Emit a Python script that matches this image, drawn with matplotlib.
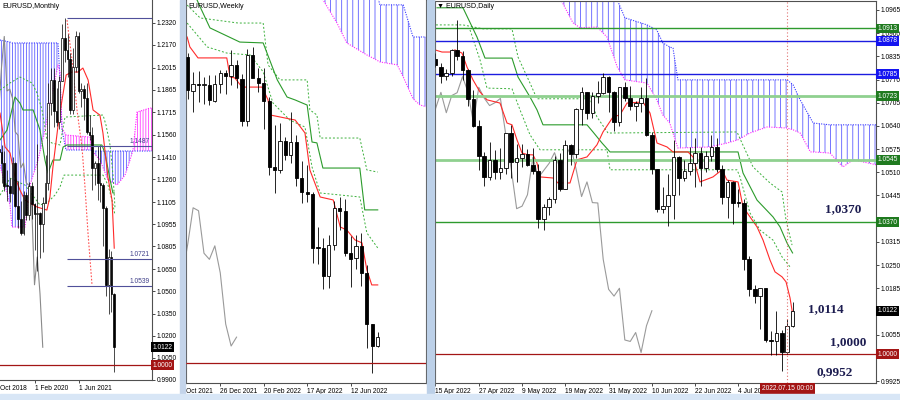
import matplotlib.pyplot as plt
from matplotlib.patches import Rectangle
import numpy as np

plt.rcParams['font.family'] = ['Liberation Sans', 'DejaVu Sans']
plt.rcParams['hatch.linewidth'] = 0.6

# ---------------- monthly bars (index 0 = Jan 2019)
mo_open = [1.1466, 1.1445, 1.1372, 1.1217, 1.1214, 1.1168, 1.1370, 1.1077, 1.0988, 1.0898, 1.1152, 1.1017,
           1.1213, 1.1093, 1.1026, 1.1030, 1.0955, 1.1100, 1.1234, 1.1778, 1.1935, 1.1720, 1.1646, 1.1926,
           1.2216, 1.2136, 1.2074, 1.1728, 1.2017, 1.2227, 1.1858, 1.1870, 1.1808, 1.1580, 1.1558, 1.1338,
           1.1370, 1.1235, 1.1218, 1.1067, 1.0545, 1.0733, 1.0484]
mo_high = [1.1570, 1.1489, 1.1448, 1.1324, 1.1265, 1.1412, 1.1380, 1.1250, 1.1110, 1.1180, 1.1175, 1.1240,
           1.1239, 1.1100, 1.1496, 1.1040, 1.1137, 1.1422, 1.1909, 1.2011, 1.2011, 1.1880, 1.1960, 1.2310,
           1.2349, 1.2243, 1.2113, 1.2150, 1.2266, 1.2254, 1.1909, 1.1900, 1.1909, 1.1692, 1.1616, 1.1386,
           1.1483, 1.1495, 1.1233, 1.1076, 1.0787, 1.0774, 1.0486]
mo_low = [1.1289, 1.1234, 1.1177, 1.1111, 1.1107, 1.1160, 1.1070, 1.0927, 1.0879, 1.0880, 1.0981, 1.0981,
          1.0992, 1.0778, 1.0636, 1.0727, 1.0766, 1.1100, 1.1185, 1.1696, 1.1612, 1.1622, 1.1603, 1.1923,
          1.2053, 1.1952, 1.1704, 1.1704, 1.1986, 1.1847, 1.1752, 1.1664, 1.1563, 1.1524, 1.1186, 1.1222,
          1.1121, 1.1106, 1.0806, 1.0471, 1.0349, 1.0359, 0.9952]
mo_close = [1.1445, 1.1372, 1.1217, 1.1214, 1.1168, 1.1370, 1.1077, 1.0988, 1.0898, 1.1152, 1.1017, 1.1213,
            1.1093, 1.1026, 1.1030, 1.0955, 1.1100, 1.1234, 1.1778, 1.1935, 1.1720, 1.1646, 1.1926, 1.2216,
            1.2136, 1.2074, 1.1728, 1.2017, 1.2227, 1.1858, 1.1870, 1.1808, 1.1580, 1.1558, 1.1338, 1.1370,
            1.1235, 1.1218, 1.1067, 1.0545, 1.0733, 1.0484, 1.0122]

mo_tenkan_x = [0.45, 2.3, 4.1, 5.9, 7.7, 9.5, 13.9, 17.5, 18.6, 19.7, 21.5, 23.0, 24.5, 26.6, 28.8, 30.6,
               32.5, 34.3, 36.8, 37.9, 39.7, 41.2, 42.0]
mo_tenkan = [1.1708, 1.1478, 1.1438, 1.1275, 1.1187, 1.1119, 1.1072, 1.1051, 1.1139, 1.1343, 1.1614, 1.1796,
             1.1966, 1.1986, 1.1986, 1.2013, 1.1932, 1.1729, 1.1694, 1.1572, 1.1274, 1.1118, 1.0793]
mo_kijun_x = [0.45, 3.0, 5.9, 7.7, 8.8, 12.5, 15.0, 16.8, 17.9, 19.7, 22.3, 23.4, 24.8, 37.5, 38.6, 40.5, 41.5, 42.0]
mo_kijun = [1.1526, 1.1593, 1.1817, 1.1776, 1.1729, 1.1729, 1.1593, 1.1390, 1.1302, 1.1390, 1.1390, 1.1478,
            1.1492, 1.1492, 1.1438, 1.1255, 1.1167, 1.1167]
mo_dash1_x = [0.45, 4.09, 7.73, 12.09, 13.91, 15.73, 17.55, 19.36, 22.27, 24.09, 37.91, 39.0, 40.45, 41.55, 42.27]
mo_dash1 = [1.1864, 1.1912, 1.1952, 1.1912, 1.1844, 1.1729, 1.1526, 1.1505, 1.1492, 1.1681, 1.1695, 1.1627,
            1.1492, 1.1288, 1.1065]
mo_dash2_x = [0.45, 4.09, 9.55, 15.0, 17.91, 20.45, 22.27, 23.73, 37.91, 39.73, 41.18, 42.27]
mo_dash2 = [1.1152, 1.1267, 1.1220, 1.1085, 1.1105, 1.1153, 1.1207, 1.1288, 1.1288, 1.1220, 1.1119, 1.1017]
mo_reddot_x = [24.82, 26.64, 28.45, 30.27, 31.36, 32.45, 33.91]
mo_reddot = [1.2338, 1.2067, 1.1729, 1.1478, 1.1207, 1.0896, 1.0544]
mo_kumo_x = [0.45, 4.09, 4.82, 9.55, 11.36, 14.27, 16.82, 18.64, 20.45, 21.55, 22.27, 23.0, 24.45, 33.18,
             34.27, 36.82, 39.73, 43.0, 45.91, 47.73, 48.82, 50.27, 55.0, 55.73]
mo_span_a = [1.2203, 1.2189, 1.2183, 1.2183, 1.2183, 1.2183, 1.2183, 1.2183, 1.2183, 1.2183, 1.1932, 1.1593,
             1.1458, 1.1458, 1.1451, 1.1451, 1.1451, 1.1451, 1.1451, 1.1451, 1.1451, 1.1451, 1.1451, 1.1451]
mo_span_b = [1.1356, 1.1085, 1.0936, 1.0936, 1.1221, 1.1390, 1.1593, 1.1776, 1.1932, 1.2034, 1.1986, 1.1607,
             1.1559, 1.1546, 1.1444, 1.1390, 1.1255, 1.1221, 1.1288, 1.1390, 1.1458, 1.1715, 1.1742, 1.1742]
mo_levels = [1.1487, 1.0721, 1.0539]
mo_ticks = [1.2320, 1.2170, 1.2015, 1.1865, 1.1715, 1.1560, 1.1410, 1.1260, 1.1105, 1.0955, 1.0805,
            1.0650, 1.0500, 1.0350, 1.0200, 1.0050, 0.9900]
mo_dates = ['1 Feb 2020', '1 Jun 2021']
mo_date_pos = [13, 29]

# ---------------- weekly bars (index 2 = week of 14 Nov 2021)
wk_open = [1.1445, 1.1288, 1.1318, 1.1313, 1.1313, 1.1240, 1.1321, 1.1370, 1.1359, 1.1411, 1.1343, 1.1144,
           1.1457, 1.1349, 1.1322, 1.1240, 1.0929, 1.0912, 1.1050, 1.0984, 1.1046, 1.0876, 1.0810, 1.0800,
           1.0550, 1.0545, 1.0411, 1.0560, 1.0734, 1.0720, 1.0520, 1.0497, 1.0554, 1.0426, 1.0184, 1.0080]
wk_high = [1.1464, 1.1376, 1.1383, 1.1355, 1.1360, 1.1360, 1.1386, 1.1386, 1.1482, 1.1435, 1.1369, 1.1484,
           1.1495, 1.1395, 1.1395, 1.1258, 1.1126, 1.1137, 1.1070, 1.1185, 1.1076, 1.0954, 1.0937, 1.0808,
           1.0642, 1.0590, 1.0605, 1.0765, 1.0787, 1.0774, 1.0600, 1.0606, 1.0615, 1.0463, 1.0186, 1.0147]
wk_low = [1.1250, 1.1187, 1.1235, 1.1227, 1.1221, 1.1234, 1.1279, 1.1272, 1.1314, 1.1300, 1.1121, 1.1121,
          1.1374, 1.1280, 1.1106, 1.0889, 1.0806, 1.0900, 1.0961, 1.0945, 1.0837, 1.0757, 1.0762, 1.0472,
          1.0470, 1.0349, 1.0354, 1.0533, 1.0627, 1.0506, 1.0359, 1.0445, 1.0366, 1.0071, 0.9952, 1.0076]
wk_close = [1.1290, 1.1318, 1.1316, 1.1316, 1.1245, 1.1320, 1.1370, 1.1359, 1.1411, 1.1350, 1.1144, 1.1457,
            1.1349, 1.1322, 1.1240, 1.0929, 1.0912, 1.1050, 1.0984, 1.1046, 1.0876, 1.0810, 1.0800, 1.0545,
            1.0545, 1.0411, 1.0560, 1.0734, 1.0720, 1.0519, 1.0490, 1.0554, 1.0426, 1.0184, 1.0080, 1.0122]

wk_tenkan_x = [1.9, 2.4, 3.9, 9.2, 9.8, 10.7, 12.0, 15.7, 16.8, 17.2, 21.8, 23.6, 24.5, 26.4, 28.8, 30.1,
               31.3, 32.8, 34.1, 35.0, 35.9, 37.0]
wk_tenkan = [1.1542, 1.1495, 1.1443, 1.1443, 1.1353, 1.1348, 1.1305, 1.1305, 1.1244, 1.1173, 1.1149, 1.1088,
             1.0913, 1.0785, 1.0771, 1.0643, 1.0629, 1.0582, 1.0568, 1.0440, 1.0369, 1.0369]
wk_kijun_x = [3.5, 4.3, 6.1, 11.6, 15.9, 18.5, 20.3, 21.8, 24.0, 24.9, 25.8, 26.9, 33.7, 34.6, 37.0]
wk_kijun = [1.1730, 1.1684, 1.1585, 1.1518, 1.1514, 1.1339, 1.1258, 1.1244, 1.1220, 1.1045, 1.1041, 1.0922,
            1.0922, 1.0724, 1.0724]
wk_dash1_x = [1.9, 4.3, 11.3, 15.9, 16.8, 19.0, 24.0, 24.5, 25.8, 26.4, 33.7, 35.0, 37.0]
wk_dash1 = [1.1693, 1.1632, 1.1608, 1.1608, 1.1410, 1.1339, 1.1339, 1.1197, 1.1173, 1.1064, 1.1064, 1.0913, 1.0903]
wk_dash2_x = [1.9, 5.6, 9.2, 13.5, 15.9, 17.7, 20.8, 23.6, 24.9, 26.4, 33.7, 35.0, 37.0]
wk_dash2 = [1.1608, 1.1495, 1.1466, 1.1457, 1.1377, 1.1230, 1.1149, 1.1116, 1.0927, 1.0804, 1.0785, 1.0615, 1.0544]
wk_kumo_x = [26.4, 29.5, 31.3, 35.0, 36.3, 37.4, 40.6, 41.7, 43.5, 44.8, 46.1]
wk_span_a = [1.19, 1.19, 1.19, 1.19, 1.18, 1.1694, 1.1694, 1.1694, 1.1542, 1.1542, 1.1542]
wk_span_b = [1.1740, 1.1608, 1.1514, 1.1457, 1.1440, 1.1424, 1.1410, 1.1353, 1.1250, 1.1220, 1.1211]
wk_dates = ['26 Dec 2021', '20 Feb 2022', '17 Apr 2022', '12 Jun 2022']
wk_date_pos = [8, 16, 24, 32]

# ---------------- daily bars (index 0 = 15 Apr 2022)
dy_open = [1.0827, 1.0805, 1.0780, 1.0788, 1.0853, 1.0835, 1.0796, 1.0716, 1.0640, 1.0557, 1.0497, 1.0545,
           1.0510, 1.0522, 1.0619, 1.0540, 1.0550, 1.0560, 1.0530, 1.0515, 1.0380, 1.0412, 1.0435, 1.0545,
           1.0463, 1.0587, 1.0561, 1.0688, 1.0734, 1.0677, 1.0725, 1.0733, 1.0778, 1.0735, 1.0650, 1.0748,
           1.0718, 1.0697, 1.0705, 1.0717, 1.0615, 1.0519, 1.0408, 1.0415, 1.0447, 1.0552, 1.0495, 1.0515,
           1.0535, 1.0565, 1.0522, 1.0555, 1.0582, 1.0518, 1.0442, 1.0483, 1.0425, 1.0424, 1.0266, 1.0182,
           1.0163, 1.0185, 1.0040, 1.0036, 1.0061, 1.0005, 1.0080]
dy_high = [1.0845, 1.0815, 1.0800, 1.0855, 1.0936, 1.0850, 1.0800, 1.0740, 1.0657, 1.0567, 1.0594, 1.0572,
           1.0577, 1.0620, 1.0642, 1.0590, 1.0590, 1.0576, 1.0579, 1.0532, 1.0420, 1.0440, 1.0555, 1.0565,
           1.0600, 1.0590, 1.0690, 1.0748, 1.0735, 1.0735, 1.0765, 1.0787, 1.0779, 1.0738, 1.0750, 1.0764,
           1.0753, 1.0711, 1.0748, 1.0774, 1.0624, 1.0520, 1.0469, 1.0506, 1.0601, 1.0557, 1.0545, 1.0582,
           1.0606, 1.0580, 1.0569, 1.0615, 1.0606, 1.0530, 1.0487, 1.0486, 1.0463, 1.0436, 1.0276, 1.0194,
           1.0186, 1.0186, 1.0064, 1.0121, 1.0069, 1.0098, 1.0147]
dy_low = [1.0806, 1.0760, 1.0770, 1.0780, 1.0825, 1.0770, 1.0697, 1.0636, 1.0516, 1.0471, 1.0489, 1.0490,
          1.0492, 1.0505, 1.0493, 1.0484, 1.0524, 1.0527, 1.0506, 1.0354, 1.0349, 1.0389, 1.0423, 1.0457,
          1.0463, 1.0530, 1.0550, 1.0642, 1.0660, 1.0662, 1.0703, 1.0730, 1.0680, 1.0627, 1.0640, 1.0709,
          1.0684, 1.0653, 1.0680, 1.0613, 1.0506, 1.0398, 1.0397, 1.0359, 1.0380, 1.0445, 1.0485, 1.0502,
          1.0470, 1.0471, 1.0511, 1.0543, 1.0512, 1.0420, 1.0382, 1.0366, 1.0413, 1.0235, 1.0162, 1.0144,
          1.0072, 1.0034, 0.9999, 0.9999, 0.9952, 1.0000, 1.0076]
dy_close = [1.0810, 1.0780, 1.0788, 1.0853, 1.0835, 1.0796, 1.0716, 1.0640, 1.0557, 1.0497, 1.0545, 1.0510,
            1.0522, 1.0619, 1.0540, 1.0550, 1.0560, 1.0530, 1.0515, 1.0380, 1.0412, 1.0435, 1.0545, 1.0463,
            1.0587, 1.0561, 1.0688, 1.0734, 1.0677, 1.0725, 1.0733, 1.0778, 1.0735, 1.0650, 1.0748, 1.0718,
            1.0697, 1.0705, 1.0717, 1.0615, 1.0519, 1.0408, 1.0415, 1.0447, 1.0552, 1.0495, 1.0515, 1.0535,
            1.0565, 1.0522, 1.0555, 1.0582, 1.0518, 1.0442, 1.0483, 1.0425, 1.0424, 1.0266, 1.0182, 1.0163,
            1.0185, 1.0040, 1.0036, 1.0061, 1.0005, 1.0080, 1.0122]

dy_tenkan_x = [-0.09, 1.20, 2.68, 3.60, 4.90, 5.82, 6.93, 8.23, 9.52, 11.92, 13.22, 14.14, 15.06, 15.99,
               17.1, 18.02, 18.76, 19.32, 21.72, 22.64, 24.86, 26.16, 28.0, 29.85, 30.96, 32.81, 34.1,
               35.4, 38.35, 39.65, 40.94, 42.79, 43.9, 46.67, 47.6, 48.89, 51.29, 52.96, 53.88, 55.92,
               56.84, 59.43, 60.54, 61.83, 62.75, 64.05, 64.79, 65.53, 66.0]
dy_tenkan = [1.0853, 1.0847, 1.0847, 1.0853, 1.0844, 1.0805, 1.0769, 1.0735, 1.0713, 1.0704, 1.0648, 1.0643,
             1.0601, 1.0564, 1.0559, 1.0559, 1.0536, 1.0497, 1.0494, 1.0480, 1.0480, 1.0545, 1.0553, 1.0587,
             1.0623, 1.0665, 1.0671, 1.0704, 1.0707, 1.0676, 1.0592, 1.0581, 1.0567, 1.0567, 1.0553, 1.0483,
             1.0497, 1.0517, 1.0488, 1.0483, 1.0413, 1.0357, 1.0320, 1.0264, 1.0231, 1.0217, 1.0203, 1.0158,
             1.0114]
dy_kijun_x = [0.28, 5.08, 7.67, 9.15, 14.14, 15.25, 17.47, 18.76, 19.87, 28.0, 29.11, 30.78, 32.26, 55.92,
              56.84, 59.43, 62.38, 63.68, 64.97, 66.0]
dy_kijun = [1.0971, 1.0971, 1.0889, 1.0830, 1.0830, 1.0777, 1.0721, 1.0685, 1.0643, 1.0643, 1.0623, 1.0592,
            1.0567, 1.0567, 1.0508, 1.0432, 1.0385, 1.0357, 1.0312, 1.0284]
dy_dash1_x = [0.09, 5.08, 8.78, 14.14, 15.25, 17.47, 18.76, 28.56, 29.85, 31.89, 55.73, 56.65, 58.69,
              61.83, 64.05, 64.79, 65.9]
dy_dash1 = [1.0923, 1.0923, 1.0912, 1.0912, 1.0833, 1.0760, 1.0716, 1.0716, 1.0665, 1.0620, 1.0623, 1.0592,
            1.0525, 1.0480, 1.0455, 1.0376, 1.0306]
dy_dash2_x = [6.38, 8.23, 9.52, 14.14, 15.62, 17.47, 19.32, 31.7, 32.26, 55.73, 56.28, 58.13, 59.98,
              62.38, 64.05, 65.53]
dy_dash2 = [1.0909, 1.0825, 1.0746, 1.0744, 1.0685, 1.0615, 1.0573, 1.0573, 1.0517, 1.0517, 1.0497, 1.0396,
            1.0348, 1.0320, 1.0273, 1.0245]
dy_kumo_x = [23.0, 25.4, 26.7, 29.9, 31.7, 33.6, 35.0, 39.1, 40.9, 42.0, 43.3, 43.9, 44.8, 50.7, 53.9,
             55.9, 58.1, 61.3, 65.0, 66.1, 67.4, 69.3, 69.8, 72.9, 75.3, 77.2, 81.5]
dy_span_a = [1.1049, 1.1049, 1.1049, 1.1035, 1.1021, 1.0993, 1.0943, 1.0923, 1.0909, 1.0873, 1.0861, 1.0858,
             1.0769, 1.0769, 1.0769, 1.0769, 1.0769, 1.0769, 1.0769, 1.0755, 1.0713, 1.0662, 1.0648, 1.0643,
             1.0643, 1.0643, 1.0643]
dy_span_b = [1.0999, 1.0929, 1.0915, 1.0917, 1.0889, 1.0805, 1.0769, 1.0760, 1.0713, 1.0671, 1.0648, 1.0620,
             1.0578, 1.0581, 1.0592, 1.0601, 1.0620, 1.0637, 1.0634, 1.0629, 1.0620, 1.0567, 1.0567, 1.0564,
             1.0525, 1.0545, 1.0531]
dy_ticks = [1.0965, 1.0900, 1.0835, 1.0770, 1.0705, 1.0640, 1.0575, 1.0510, 1.0445, 1.0380, 1.0315,
            1.0250, 1.0185, 1.0120, 1.0055, 0.9990, 0.9925]
# the last label is cut by the cursor date box on the terminal
dy_dates = ['15 Apr 2022', '27 Apr 2022', '9 May 2022', '19 May 2022', '31 May 2022', '10 Jun 2022',
            '22 Jun 2022', '4 Jul 20']
dy_date_pos = [0, 8, 16, 24, 32, 40, 48, 56]
dy_levels = [1.0913, 1.0878, 1.0785, 1.0723, 1.0545, 1.0370]
dy_level_kind = ['green', 'blue', 'blue', 'pale', 'pale', 'green']

LEVEL_STYLE = {'green': ('#2e9a2e', 1.0, '#1f7a1f'), 'blue': ('#1c1ce0', 1.0, '#1414f0'),
               'pale': ('#8fd08f', 2.0, '#1f7a1f')}
RED = '#ff2a2a'
KIJ = '#2b9b2b'
DASH = '#3bb03b'
GREY = '#9a9a9a'
DRED = '#a31515'
FS = 4.8

W, H = 900, 400
fig = plt.figure(figsize=(9, 4), dpi=100)
fig.patch.set_facecolor('white')


def box(l, t, r, b):
    return [l / W, (H - b) / H, (r - l) / W, (b - t) / H]


def candles(ax, x, o, h, l, c, width, lw=0.6):
    x, o, h, l, c = (np.asarray(v, float) for v in (x, o, h, l, c))
    ax.vlines(x, l, h, color='black', lw=lw, zorder=3)
    up = c >= o
    lo, hi = ax.get_ylim()
    body = np.maximum(np.abs(c - o), (hi - lo) * 0.0025)
    bot = np.minimum(o, c)
    ax.bar(x[up], body[up], width, bot[up], facecolor='white', edgecolor='black', lw=lw, zorder=4)
    ax.bar(x[~up], body[~up], width, bot[~up], facecolor='black', edgecolor='black', lw=lw, zorder=4)


def kumo(ax, x, a, b, hatch):
    x, a, b = (np.asarray(v, float) for v in (x, a, b))
    ax.fill_between(x, a, b, where=a >= b, interpolate=True, facecolor='none',
                    edgecolor=(0.15, 0.15, 1, 0.75), hatch=hatch, lw=0, zorder=1)
    ax.fill_between(x, a, b, where=a < b, interpolate=True, facecolor='none',
                    edgecolor=(1, 0, 1, 0.75), hatch=hatch, lw=0, zorder=1)
    ax.plot(x, a, color='#3a3aff', ls=(0, (1, 1.2)), lw=0.8, zorder=1.5)
    ax.plot(x, b, color='#ff22ff', ls=(0, (1, 1.2)), lw=0.8, zorder=1.5)


def price_box(ax, v, fc, txt=None):
    ax.text(1.004, v, txt or f'{v:.4f}', transform=ax.get_yaxis_transform(), ha='left', va='center',
            fontsize=FS, color='white', zorder=20, clip_on=False,
            bbox=dict(boxstyle='square,pad=0.22', fc=fc, ec='none'))


def style(ax, xl, yl, right_scale=True):
    ax.set_xlim(*xl)
    ax.set_ylim(*yl)
    for s in ax.spines.values():
        s.set_color('#505050')
        s.set_linewidth(0.8)
    ax.tick_params(axis='x', length=2, width=0.5, labelsize=FS, pad=1.5, direction='out')
    if right_scale:
        ax.yaxis.tick_right()
        ax.tick_params(axis='y', length=2, width=0.5, labelsize=FS, pad=1.5)
    else:
        ax.set_yticks([])


def scale_labels(ticks, covered):
    # labels sitting under a coloured price box are not visible on the terminal
    return ['' if any(abs(t - c) < 0.0011 for c in covered) else f'{t:.4f}' for t in ticks]


def date_ticks(ax, pos, labels):
    ax.set_xticks(pos)
    ax.set_xticklabels(labels, ha='left')


# ======================= monthly
ax_m = fig.add_axes(box(0, 0, 152, 380))
style(ax_m, (0.45, 55.73), (0.9900, 1.2474))
ax_m.spines['left'].set_visible(False)
ax_m.spines['top'].set_visible(False)
ax_m.set_yticks(mo_ticks)
ax_m.set_yticklabels([f'{v:.4f}' for v in mo_ticks])
date_ticks(ax_m, mo_date_pos, mo_dates)
ax_m.text(0.0, -0.012, 'Oct 2018', transform=ax_m.transAxes, ha='left', va='top', fontsize=FS)

kumo(ax_m, mo_kumo_x, mo_span_a, mo_span_b, '||||||')
mo_idx = np.arange(len(mo_close))
ax_m.plot(mo_idx - 26, mo_close, color='#8a8a8a', lw=0.8, zorder=2)
ax_m.plot(mo_dash1_x, mo_dash1, color=DASH, ls=(0, (2, 2)), lw=0.7, zorder=2)
ax_m.plot(mo_dash2_x, mo_dash2, color=DASH, ls=(0, (2, 2)), lw=0.7, zorder=2)
ax_m.plot(mo_reddot_x, mo_reddot, color='#ff5050', ls=(0, (1.5, 1.5)), lw=0.8, zorder=2)
ax_m.plot(mo_kijun_x, mo_kijun, color=KIJ, lw=0.8, zorder=2)
ax_m.plot(mo_tenkan_x, mo_tenkan, color=RED, lw=0.8, zorder=2)
candles(ax_m, mo_idx, mo_open, mo_high, mo_low, mo_close, 0.7, lw=0.5)

ax_m.hlines(max(mo_high), 24.8, 55.73, color='#50509a', lw=0.8, zorder=5)
for v in mo_levels:
    ax_m.hlines(v, 24.8, 55.73, color='#50509a', lw=0.8, zorder=5)
    ax_m.text(55.0, v + 0.0005, f'{v:.4f}', ha='right', va='bottom', fontsize=FS, color='#40408a', zorder=6)
ax_m.axhline(1.0, color=DRED, lw=0.9, zorder=5)
price_box(ax_m, mo_close[-1], 'black')
price_box(ax_m, 1.0, DRED, '1.0000')

# ======================= weekly
ax_w = fig.add_axes(box(186, 0, 426, 383))
style(ax_w, (1.69, 45.89), (0.9905, 1.1717), right_scale=False)
ax_w.spines['top'].set_visible(False)
date_ticks(ax_w, wk_date_pos, wk_dates)
ax_w.text(0.0, -0.012, 'Oct 2021', transform=ax_w.transAxes, ha='left', va='top', fontsize=FS)

kumo(ax_w, wk_kumo_x, wk_span_a, wk_span_b, '|||')
wk_idx = np.arange(2, 2 + len(wk_close))
ax_w.plot(wk_idx - 26, wk_close, color=GREY, lw=0.8, zorder=2)
ax_w.plot(wk_dash1_x, wk_dash1, color=DASH, ls=(0, (2, 2)), lw=0.7, zorder=2)
ax_w.plot(wk_dash2_x, wk_dash2, color=DASH, ls=(0, (2, 2)), lw=0.7, zorder=2)
ax_w.plot(wk_kijun_x, wk_kijun, color=KIJ, lw=0.8, zorder=2)
ax_w.plot(wk_tenkan_x, wk_tenkan, color=RED, lw=0.8, zorder=2)
candles(ax_w, wk_idx, wk_open, wk_high, wk_low, wk_close, 0.6)
ax_w.axhline(1.0, color=DRED, lw=0.9, zorder=5)

# ======================= daily
ax_d = fig.add_axes(box(435, 1, 876, 383))
style(ax_d, (-0.09, 81.42), (0.99195, 1.0990))
ax_d.set_yticks(dy_ticks)
ax_d.set_yticklabels(scale_labels(dy_ticks, dy_levels + [dy_close[-1], 1.0]))
date_ticks(ax_d, dy_date_pos, dy_dates)

kumo(ax_d, dy_kumo_x, dy_span_a, dy_span_b, '|||')
dy_idx = np.arange(len(dy_close))
ax_d.plot(dy_idx - 26, dy_close, color=GREY, lw=0.8, zorder=2)
ax_d.plot(dy_dash1_x, dy_dash1, color=DASH, ls=(0, (2, 2)), lw=0.7, zorder=2)
ax_d.plot(dy_dash2_x, dy_dash2, color=DASH, ls=(0, (2, 2)), lw=0.7, zorder=2)
ax_d.plot(dy_kijun_x, dy_kijun, color=KIJ, lw=0.8, zorder=2)
ax_d.plot(dy_tenkan_x, dy_tenkan, color=RED, lw=0.8, zorder=2)
for v, k in zip(dy_levels, dy_level_kind):
    col, lw, fc = LEVEL_STYLE[k]
    ax_d.axhline(v, color=col, lw=lw, zorder=2.5)
    price_box(ax_d, v, fc)
ax_d.axhline(1.0, color=DRED, lw=0.9, zorder=2.5)
candles(ax_d, dy_idx, dy_open, dy_high, dy_low, dy_close, 0.68)
ax_d.axvline(65, color='#e07070', ls=(0, (1, 2)), lw=0.8, zorder=6)
price_box(ax_d, dy_close[-1], 'black')
price_box(ax_d, 1.0, DRED, '1.0000')
ax_d.text(65, -0.004, '2022.07.15 00:00', transform=ax_d.get_xaxis_transform(), ha='center', va='top',
          fontsize=FS, color='white', zorder=20, clip_on=False,
          bbox=dict(boxstyle='square,pad=0.3', fc=DRED, ec='none'))

note = dict(fontsize=9.5, fontweight='bold', color='#1c1c50', family=['Liberation Serif', 'DejaVu Serif'],
            ha='center', va='center', zorder=8)
ax_d.text(75.3, 1.0407, '1,0370', **note)
ax_d.text(72.2, 1.0127, '1,0114', **note)
ax_d.text(76.2, 1.0034, '1,0000', **note)
ax_d.text(73.7, 0.9950, '0,9952', **note)

# ======================= chrome
fig.text(2 / W, 1 - 6 / H, 'EURUSD,Monthly', fontsize=FS + 0.3, va='center', ha='left')
fig.text(188 / W, 1 - 6 / H, 'EURUSD,Weekly', fontsize=FS + 0.3, va='center', ha='left')
fig.text(437 / W, 1 - 6 / H, '\u25bc EURUSD,Daily', fontsize=FS + 0.3, va='center', ha='left')
for l, t, r, b, c in [(180, 0, 185, 394, '#c4d4ea'), (427, 0, 434, 394, '#bcd0e8'),
                      (0, 394, 900, 400, '#d8e6f6')]:
    fig.patches.append(Rectangle((l / W, (H - b) / H), (r - l) / W, (b - t) / H,
                                 transform=fig.transFigure, color=c, zorder=0))

fig.savefig('out.png', dpi=100)
